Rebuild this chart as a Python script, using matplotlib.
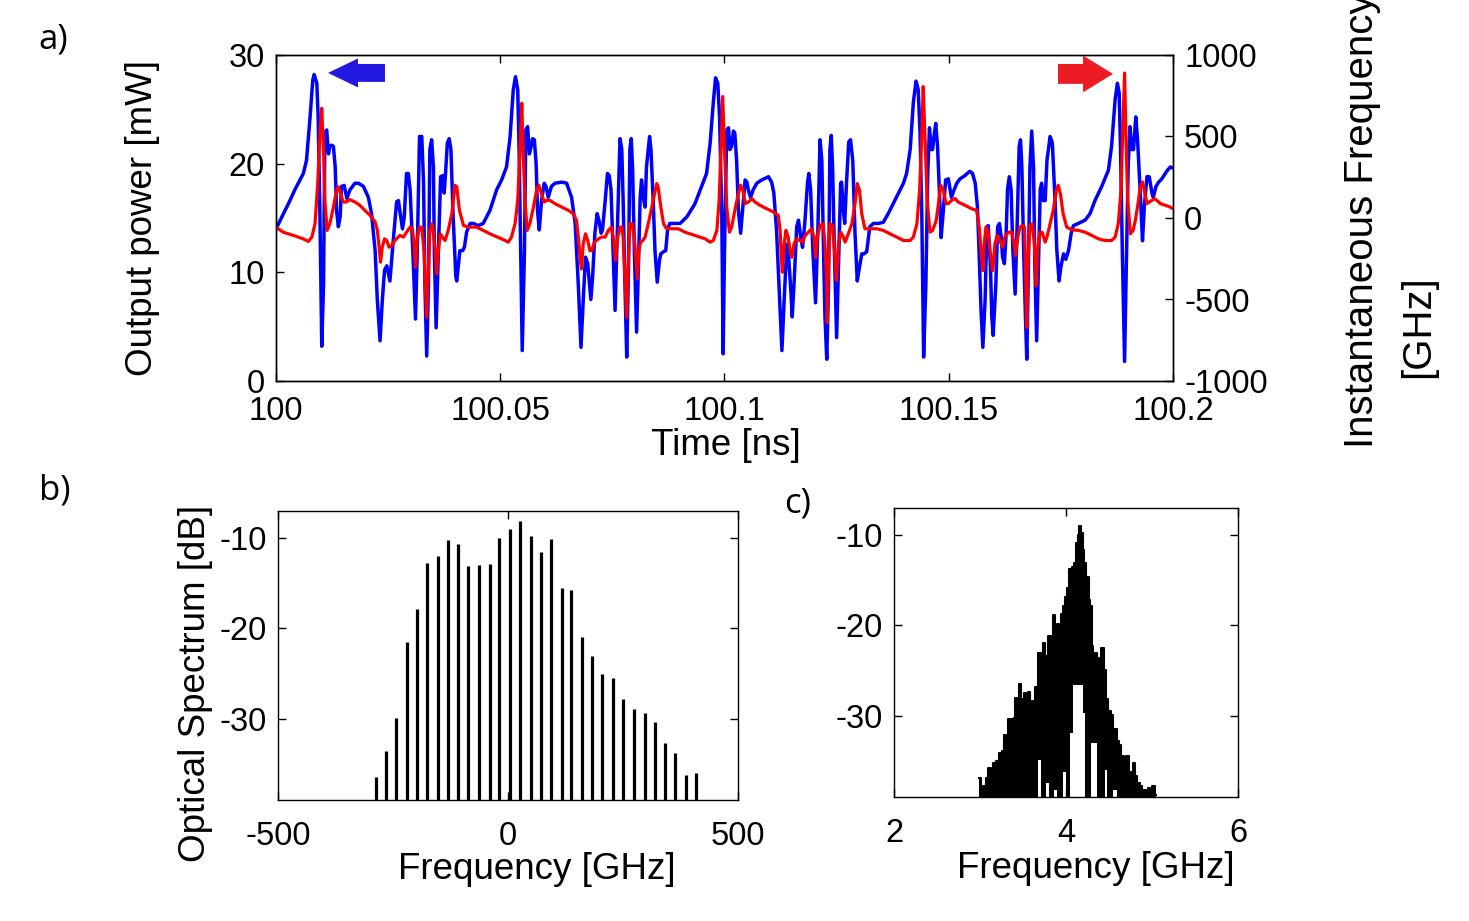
import numpy as np
import matplotlib
matplotlib.use("Agg")
import matplotlib.pyplot as plt
from matplotlib.patches import FancyArrow

plt.rcParams['font.family'] = ['Liberation Sans', 'DejaVu Sans']
plt.rcParams['axes.unicode_minus'] = False

# ---- panel a: time traces (time as ps after 100 ns) ----
blue_t_ps = [0, 3.1, 4.2, 6.1, 6.8, 7.6, 8.2, 8.5, 9.1, 9.4, 9.8, 10.2, 10.6, 10.9, 11.3, 11.7, 12.0, 12.4, 12.8,
             13.2, 13.5, 13.9, 14.3, 14.6, 15.2, 15.8, 16.5, 17.6, 18.4, 19.5, 20.6, 21.3, 22.1, 22.6, 23.2, 23.7,
             24.2, 24.7, 25.4, 26.2, 26.9, 27.3, 27.6, 28.2, 28.6, 29.1, 29.5, 29.9, 30.5, 31.1, 31.5, 32.0, 32.5,
             32.9, 33.2, 33.6, 34.0, 34.3, 34.7, 35.1, 35.3, 35.7, 36.2, 36.7, 37.2, 37.5, 37.8, 38.2, 38.6, 39.0,
             39.5, 40.1, 40.3, 40.7, 41.0, 41.6, 42.0, 42.5, 43.3, 44.0, 45.1, 46.2, 47.7, 49.2,
             50.3, 51.4, 52.2, 52.9, 53.4, 53.9, 54.2, 54.6, 54.9, 55.4, 55.7, 56.1, 56.5, 56.9, 57.2, 57.6, 58.0,
             58.3, 58.7, 59.2, 59.8, 60.2, 60.7, 61.4, 62.2, 63.7, 64.8, 65.9, 66.7, 67.4, 68.0, 68.5, 69.0, 69.5,
             69.9, 70.2, 70.6, 71.1, 71.6, 72.0, 72.5, 72.8, 73.4, 73.9, 74.3, 74.7, 75.2, 75.6, 76.2, 76.7, 77.1,
             77.4, 77.8, 78.2, 78.6, 78.9, 79.2, 79.5, 79.9, 80.4, 80.8, 81.2, 81.5, 81.9, 82.3, 82.6, 83.3, 83.6,
             84.1, 84.5, 85.0, 85.5, 85.8, 86.4, 86.9, 87.3, 87.8, 88.6, 90.1, 91.6, 93.4, 94.9, 96.0, 96.8, 97.5,
             98.0, 98.5, 98.9, 99.4,
             99.7, 100.0, 100.5, 100.9, 101.2, 101.6, 102.0, 102.3, 102.7, 103.1, 103.6, 104.1, 104.6, 105.0,
             105.3, 105.8, 106.4, 107.2, 108.3, 109.8, 110.5, 111.0, 111.6, 112.2, 112.8, 113.3, 113.9, 114.3,
             114.8, 115.1, 115.5, 116.1, 116.5, 117.0, 117.4, 117.9, 118.5, 118.8, 119.2, 119.7, 120.3, 120.8,
             121.3, 121.7, 122.0, 122.4, 122.8, 123.2, 123.5, 123.8, 124.1, 124.5, 125.0, 125.5, 125.9, 126.1,
             126.5, 126.8, 127.2, 127.7, 128.1, 128.6, 129.1, 129.6, 130.1, 130.6, 131.1, 131.7, 132.4, 133.2,
             134.3, 135.4, 136.5, 137.6, 138.8, 139.9, 140.6, 141.4, 142.1, 142.7, 143.2, 143.6, 144.0, 144.4,
             144.9, 145.3, 145.7, 146.1, 146.4, 146.7, 147.1, 147.5, 147.9, 148.3, 148.8, 149.3,
             149.9, 150.6, 151.2, 151.8, 152.5, 153.6, 154.7, 155.3, 155.9, 156.4, 156.8, 157.2, 157.6, 158.1,
             158.5, 158.8, 159.3, 159.6, 159.9, 160.5, 160.9, 161.3, 161.7, 162.0, 162.4, 162.8, 163.1, 163.5,
             163.9, 164.3, 164.8, 165.3, 165.7, 166.0, 166.3, 166.7, 167.1, 167.4, 167.7, 168.1, 168.5, 168.9,
             169.2, 169.6, 170.0, 170.4, 170.7, 171.1, 171.5, 171.9, 172.6, 173.1, 173.7, 174.1, 174.6, 175.0,
             175.6, 176.1, 176.7, 177.3, 177.8, 178.9, 180.4, 181.5, 182.6, 184.1, 185.6, 186.3, 187.1, 187.6,
             188.0, 188.3, 188.7, 189.2, 189.6, 190.0, 190.4, 190.8, 191.2, 191.7, 192.1, 192.7, 193.2, 193.6,
             194.2, 194.7, 195.3, 195.6, 196.2, 196.8, 197.5, 198.6, 199.4, 200.0]
power_mw = [14.0, 16.6, 17.6, 19.1, 20.3, 24.3, 27.7, 28.2, 27.4, 24.3, 15.1, 3.2, 8.9, 22.8, 23.1, 20.9, 21.6, 21.7,
            21.6, 19.7, 15.7, 14.2, 15.1, 17.9, 18.0, 16.8, 17.6, 18.2, 18.2, 17.9, 16.9, 15.4, 12.0, 7.4, 3.7, 7.4,
            10.2, 10.6, 9.2, 13.2, 16.5, 16.6, 15.7, 14.0, 15.1, 19.1, 19.1, 17.6, 12.0, 5.7, 12.0, 22.5, 22.5,
            18.2, 8.9, 2.3, 8.9, 21.3, 22.2, 19.7, 12.0, 4.9, 12.0, 18.8, 18.9, 17.3, 19.1, 21.9, 22.3, 21.3,
            15.1, 9.6, 9.2, 10.8, 12.0, 12.0, 12.3, 13.7, 14.5, 14.5, 14.3, 14.5, 15.7, 17.6,
            18.5, 19.7, 22.5, 26.8, 28.0, 26.8, 21.3, 10.5, 2.8, 12.0, 23.1, 23.4, 20.9, 21.6, 22.3, 22.2, 20.0,
            15.7, 13.9, 16.6, 18.2, 17.9, 16.9, 17.9, 18.2, 18.3, 18.2, 16.9, 14.5, 8.9, 3.1, 7.4, 11.4, 10.8,
            8.9, 7.5, 9.6, 13.6, 15.4, 14.8, 13.6, 13.9, 16.6, 19.1, 18.9, 17.6, 11.4, 6.5, 15.1, 22.3, 21.3,
            16.6, 8.9, 2.2, 10.5, 21.3, 22.3, 19.7, 12.0, 4.5, 10.5, 16.9, 18.5, 16.9, 16.0, 19.7, 22.5, 21.3,
            16.6, 12.0, 9.1, 11.1, 11.7, 11.9, 12.0, 13.9, 14.5, 14.5, 14.5, 15.1, 16.3, 17.9, 19.1, 21.9, 25.6,
            27.9, 27.4, 24.3, 15.1,
            2.5, 12.0, 23.1, 23.3, 21.3, 21.6, 23.0, 22.8, 20.3, 15.7, 13.6, 16.0, 18.5, 18.3,
            17.6, 16.9, 17.6, 18.2, 18.5, 18.8, 18.3, 17.3, 13.9, 8.3, 2.8, 7.4, 12.6, 11.4,
            8.3, 5.9, 8.9, 14.2, 14.8, 13.2, 12.3, 14.5, 18.2, 19.1, 17.6, 12.0, 7.2, 13.6,
            22.2, 20.3, 13.6, 5.9, 2.0, 8.9, 21.3, 22.6, 19.7, 12.0, 4.0, 12.0, 18.2, 18.3,
            15.7, 14.5, 18.2, 22.0, 22.2, 20.3, 13.6, 9.2, 10.5, 11.7, 11.7, 11.9, 14.2, 14.5,
            14.5, 14.6, 15.4, 16.3, 17.3, 18.2, 19.1, 21.3, 25.6, 27.6, 26.8, 22.8, 15.1, 2.2,
            8.9, 18.8, 23.3, 21.3, 21.3, 22.5, 23.7, 21.6, 17.6, 13.2, 15.7, 18.5,
            18.6, 16.9, 17.6, 18.2, 18.6, 18.9, 19.3, 19.1, 18.2, 16.0, 11.4, 6.5, 3.1, 7.4,
            14.2, 14.3, 10.5, 5.9, 4.2, 8.9, 14.2, 14.5, 13.2, 11.4, 10.8, 13.6, 17.6, 18.8,
            17.6, 12.0, 8.0, 15.1, 21.6, 22.2, 19.7, 12.0, 5.9, 2.0, 8.9, 19.7, 23.0, 19.7,
            10.5, 3.7, 10.5, 17.6, 18.2, 16.6, 16.6, 20.3, 22.5, 21.9, 16.6, 12.0, 9.2, 10.5,
            11.7, 11.2, 12.0, 13.6, 14.3, 14.5, 14.8, 15.4, 16.6, 17.9, 19.4, 21.6, 25.9, 27.4,
            26.5, 21.3, 12.0, 1.8, 10.5, 19.7, 23.4, 21.3, 21.3, 24.3, 22.2, 17.3, 12.9, 16.0,
            18.8, 18.8, 17.3, 16.9, 17.9, 18.3, 18.6, 19.3, 19.7, 19.6]

red_t_ps = [0, 1.6, 3.9, 6.1, 7.2, 8.0, 8.7, 9.3, 9.8, 10.2, 10.6, 10.9, 11.4, 12.0, 12.8, 13.5, 13.9, 14.4, 15.0,
            15.6, 16.5, 17.6, 18.7, 19.8, 21.0, 22.1, 22.6, 23.0, 23.3, 23.7, 24.2, 24.7, 25.2, 25.8, 26.5, 27.6,
            28.4, 29.1, 29.9, 30.4, 30.8, 31.1, 31.5, 32.0, 32.5, 33.0, 33.3, 33.6, 34.0, 34.3, 34.8, 35.1, 35.5,
            35.8, 36.2, 36.6, 37.1, 37.7, 38.4, 39.2, 39.9, 40.3, 40.9, 41.8, 42.9, 44.7, 46.2, 47.7,
            50.3, 51.8, 52.5, 53.3, 53.9, 54.4, 54.8, 55.1, 55.5, 56.0, 56.6, 57.4, 58.1, 58.6, 59.2, 59.8, 60.3,
            61.1, 62.2, 63.7, 65.2, 66.3, 67.0, 67.4, 67.8, 68.1, 68.5, 69.0, 69.5, 70.0, 70.4, 71.0, 71.9, 72.6,
            73.4, 74.1, 74.8, 75.4, 75.7, 76.2, 76.7, 77.1, 77.4, 77.8, 78.2, 78.6, 78.9, 79.4, 79.9, 80.2, 80.6,
            80.9, 81.3, 81.8, 82.3, 83.0, 83.8, 84.4, 84.9, 85.2, 85.8, 86.4, 87.1, 88.2, 89.7, 91.2, 93.4, 95.7,
            96.8, 97.5, 98.3, 98.8, 99.2,
            99.6, 100.0, 100.5, 101.1, 101.6, 102.3, 103.1, 103.6, 104.1, 104.6, 105.3, 106.1, 106.8, 107.9,
            109.4, 110.9, 112.0, 112.4, 112.6, 112.9, 113.3, 113.7, 114.2, 114.6, 115.0, 115.5, 116.1, 116.8,
            117.4, 118.0, 118.7, 119.4, 120.0, 120.3, 120.7, 121.3, 122.0, 122.4, 122.8, 122.9, 123.2, 123.5,
            124.1, 124.5, 125.0, 125.4, 125.9, 126.5, 126.9, 127.6, 128.4, 129.1, 129.6, 130.1, 130.6, 131.3,
            132.4, 133.9, 135.4, 136.9, 138.4, 139.9, 141.4, 142.1, 142.9, 143.5, 144.0, 144.3, 144.8, 145.2,
            145.8, 146.4, 147.2, 147.7, 148.2, 148.8, 149.4,
            149.9, 150.6, 151.4, 152.1, 153.6, 155.1, 156.2, 156.8, 157.2, 157.6, 157.9, 158.3, 158.7, 159.2,
            159.8, 160.3, 160.8, 161.4, 162.0, 162.5, 163.3, 164.0, 164.6, 164.9, 165.4, 165.9, 166.4, 166.9,
            167.1, 167.4, 167.7, 168.1, 168.6, 169.1, 169.5, 169.8, 170.3, 170.8, 171.5, 171.9, 172.6, 173.3,
            174.0, 174.4, 174.9, 175.5, 176.3, 177.4, 178.9, 180.4, 181.9, 183.4, 184.8, 186.3, 187.1, 187.8,
            188.4, 188.8, 189.2, 189.5, 189.9, 190.5, 191.1, 191.6, 192.2, 192.7, 193.2, 193.6, 194.2, 194.7,
            195.3, 195.9, 196.4, 197.2, 198.3, 199.4, 200.0]
freq_ghz = [-56, -87, -107, -128, -144, -117, -35, 211, 519, 673, 416, 108, -76, -35, 67, 170, 191, 149, 98,
            98, 113, 98, 78, 47, 16, -25, -76, -179, -271, -179, -128, -138, -179, -169, -138, -107,
            -117, -87, -56, -66, -159, -302, -117, -56, -56, -200, -405, -610, -302, -76, -35, -87, -200,
            -343, -200, -97, -117, -138, -76, 26, 201, 191, 47, -46, -56, -56, -76, -97,
            -128, -148, -117, -35, 108, 416, 704, 416, 108, -76, -35, 67, 170, 201, 149, 98, 108,
            108, 88, 67, 47, 26, -15, -117, -241, -313, -159, -97, -138, -200, -200, -148, -128, -117,
            -117, -76, -56, -159, -261, -117, -56, -56, -117, -364, -610, -241, -35, -35, -117, -241, -374,
            -200, -148, -138, -117, -35, 67, 149, 211, 191, 67, -35, -66, -66, -66, -87, -107, -128,
            -148, -138, -76, 108, 416,
            745, 416, 67, -87, -56, 47, 149, 201, 170, 88, 98, 119, 98, 78,
            57, 37, 16, -76, -200, -333, -159, -76, -117, -200, -241, -159, -128, -138,
            -148, -107, -87, -66, -117, -241, -117, -46, -35, -159, -405, -641, -302, -35,
            -46, -200, -384, -159, -87, -117, -148, -97, -35, 88, 211, 170, 26, -66,
            -66, -66, -76, -97, -117, -138, -138, -117, -35, 170, 519, 806, 416, 108,
            -87, -76, -15, 88, 201, 170, 88,
            88, 108, 119, 98, 78, 57, 47, -56, -200, -323, -159, -56, -76, -200,
            -323, -159, -107, -138, -179, -117, -87, -87, -159, -231, -117, -56, -46, -56,
            -302, -672, -241, -46, -35, -159, -415, -200, -87, -87, -148, -117, -35, 47,
            170, 201, 149, 26, -56, -72, -76, -87, -107, -128, -138, -138, -117, -35,
            170, 519, 889, 519, 108, -97, -76, -15, 88, 191, 221, 170, 88, 98,
            108, 119, 108, 88, 78, 67, 57]

# ---- panel b: optical comb lines ----
comb_f = [-288, -265, -243, -220, -198, -176, -153, -130, -108, -86, -63, -40, -19, 4, 26, 49,
          72, 94, 117, 138, 161, 183, 205, 228, 251, 274, 297, 319, 341, 364, 386, 409]
comb_db = [-36.4, -33.6, -29.9, -21.5, -17.8, -12.8, -12.0, -10.2, -10.6, -13.1, -13.0, -12.9, -10.0, -9.0,
           -8.1, -9.8, -11.5, -10.1, -15.5, -15.7, -20.9, -23.0, -25.0, -25.5, -27.8, -28.9, -29.4, -30.4,
           -32.7, -33.8, -36.2, -36.0]

# ---- panel c: RF spectrum, upper envelope and white gaps ----
rf_f = [2.993, 3.021, 3.059, 3.079, 3.110, 3.137, 3.176, 3.203, 3.234, 3.273, 3.292, 3.319, 3.343, 3.381,
        3.401, 3.420, 3.447, 3.467, 3.498, 3.525, 3.544, 3.564, 3.591, 3.622, 3.661, 3.692, 3.719, 3.746,
        3.777, 3.808, 3.835, 3.855, 3.882, 3.905, 3.932, 3.952, 3.979, 4.002, 4.022, 4.049, 4.080, 4.107,
        4.126, 4.146, 4.165, 4.185, 4.204, 4.224, 4.251, 4.274, 4.293, 4.309, 4.328, 4.352, 4.379, 4.398,
        4.425, 4.449, 4.476, 4.507, 4.534, 4.553, 4.584, 4.604, 4.631, 4.658, 4.689, 4.716, 4.740, 4.767,
        4.786, 4.817, 4.844, 4.872, 4.895, 4.922, 4.941, 4.972, 4.992, 5.019, 5.042]
rf_db = [-36.9, -38.0, -37.8, -36.9, -35.8, -36.3, -35.2, -35.0, -34.1, -33.9, -32.1, -32.7, -30.4, -30.4,
         -30.3, -28.0, -28.4, -26.5, -28.2, -27.5, -27.7, -27.4, -28.7, -28.4, -26.8, -23.1, -23.7, -22.0,
         -23.4, -21.2, -21.2, -18.8, -20.1, -19.8, -20.1, -18.7, -17.9, -16.8, -15.9, -13.8, -13.5, -13.1,
         -10.9, -10.0, -9.0, -9.8, -11.7, -13.1, -14.6, -17.2, -17.9, -22.3, -23.3, -23.1, -24.2, -23.6,
         -22.5, -24.9, -28.2, -29.5, -29.9, -31.5, -31.5, -32.8, -33.2, -34.5, -35.2, -34.5, -36.2, -36.5,
         -35.2, -36.7, -37.4, -37.8, -38.2, -38.2, -38.5, -38.0, -38.8, -37.8, -38.8]
gap_left = [3.680, 3.762, 3.855, 3.960, 4.045, 4.080, 4.196, 4.293, 4.449, 4.542]
gap_right = [3.707, 3.797, 3.894, 4.002, 4.076, 4.196, 4.216, 4.359, 4.476, 4.592]
gap_top = [-34.9, -37.4, -38.2, -36.2, -31.9, -26.6, -29.7, -33.0, -36.0, -38.2]

FS_TICK = 23.5
FS_LAB = 26.5
W, H = 1469, 921


def box(l, t, r, b):
    return [l / W, 1 - b / H, (r - l) / W, (b - t) / H]


def style(ax, xpad):
    ax.tick_params(direction='in', length=6, width=1, labelsize=FS_TICK, pad=8)
    ax.tick_params(axis='x', pad=xpad)
    for s in ax.spines.values():
        s.set_linewidth(1)


fig = plt.figure(figsize=(14.69, 9.21), dpi=100)

# panel a
ax = fig.add_axes(box(276, 55, 1173, 381))
ax2 = ax.twinx()
t_blue = 100 + np.array(blue_t_ps) / 1000
t_red = 100 + np.array(red_t_ps) / 1000
ax.plot(t_blue, power_mw, color='#0000ff', lw=2.5)
ax2.plot(t_red, freq_ghz, color='#ff0000', lw=2.3)
ax.set_xlim(100, 100.2)
ax.set_ylim(0, 30)
ax2.set_ylim(-1000, 1000)
ax.set_xticks([100, 100.05, 100.1, 100.15, 100.2])
ax.set_xticklabels(['100', '100.05', '100.1', '100.15', '100.2'])
ax.set_yticks([0, 10, 20, 30])
ax2.set_yticks([-1000, -500, 0, 500, 1000])
style(ax, 11)
style(ax2, 11)
ax.tick_params(axis='x', top=True)
ax.set_xlabel('Time [ns]', fontsize=FS_LAB)
ax.xaxis.label.set_va('center')
ax.xaxis.set_label_coords(0.502, -0.197)
ax.set_ylabel('Output power [mW]', fontsize=FS_LAB)
ax.yaxis.label.set_va('center')
ax.yaxis.set_label_coords(-0.149, 0.5)

ax2.add_patch(FancyArrow(0.1215, 0.945, -0.0635, 0, width=0.055, head_width=0.089, head_length=0.0334,
                         length_includes_head=True, color='#2219e0', lw=0, transform=ax2.transAxes,
                         clip_on=False))
ax2.add_patch(FancyArrow(0.8718, 0.942, 0.0613, 0, width=0.061, head_width=0.113, head_length=0.0334,
                         length_includes_head=True, color='#ed1c24', lw=0, transform=ax2.transAxes,
                         clip_on=False))

fig.text(1362 / W, 1 - 448 / H, 'Instantaneous Frequency', rotation=90, fontsize=29,
         ha='center', va='bottom')
fig.text(1418 / W, 1 - 327 / H, '[GHz]', rotation=90, fontsize=29, ha='center', va='center')

# panel b
bx = fig.add_axes(box(278, 511, 738, 800))
bx.vlines(comb_f, -40, comb_db, colors='k', lw=2.3)
bx.set_xlim(-500, 500)
bx.set_ylim(-39, -7)
bx.set_xticks([-500, 0, 500])
bx.set_yticks([-30, -20, -10])
style(bx, 15)
bx.tick_params(top=True, right=True)
bx.set_xlabel('Frequency [GHz]', fontsize=FS_LAB)
bx.xaxis.label.set_va('center')
bx.xaxis.set_label_coords(0.563, -0.242)
bx.set_ylabel('Optical Spectrum [dB]', fontsize=FS_LAB)
bx.yaxis.label.set_va('center')
bx.yaxis.set_label_coords(-0.18, 0.405)

# panel c
cx = fig.add_axes(box(894, 508, 1238, 797))
cx.fill_between(rf_f, rf_db, -40, step='mid', color='k', lw=0)
cx.step(rf_f, rf_db, where='mid', color='k', lw=1.5)
for l, r, top in zip(gap_left, gap_right, gap_top):
    cx.fill_between([l, r], -40, top, color='white', lw=0)
cx.set_xlim(2, 6)
cx.set_ylim(-39, -7)
cx.set_xticks([2, 4, 6])
cx.set_yticks([-30, -20, -10])
style(cx, 15)
cx.tick_params(top=True, right=True)
cx.set_xlabel('Frequency [GHz]', fontsize=FS_LAB)
cx.xaxis.label.set_va('center')
cx.xaxis.set_label_coords(0.587, -0.249)

for txt, x, y in [('a)', 53, 40), ('b)', 55, 490), ('c)', 798, 503)]:
    fig.text(x / W, 1 - y / H, txt, fontsize=25, ha='center', va='center',
             family=['Open Sans', 'DejaVu Sans'])

fig.savefig('out.png', dpi=100)
